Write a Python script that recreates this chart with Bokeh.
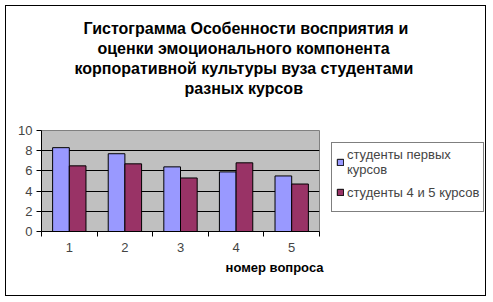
from bokeh.plotting import figure
from bokeh.models import (Range1d, FixedTicker, Title, Legend, LegendItem,
                          ColumnDataSource, InlineStyleSheet)
from bokeh.transform import dodge
from bokeh.embed import file_html
from bokeh.resources import INLINE

questions = [1, 2, 3, 4, 5]
first_year = [8.3, 7.7, 6.4, 5.9, 5.5]
senior = [6.5, 6.7, 5.3, 6.8, 4.7]
y_ticks = [0, 2, 4, 6, 8, 10]
title_lines = ["Гистограмма Особенности восприятия и",
               "оценки эмоционального компонента",
               "корпоративной культуры вуза студентами",
               "разных курсов"]
x_title = "номер вопроса"
series_names = ["студенты первых\nкурсов", "студенты 4 и 5 курсов"]

FONT = "Liberation Sans"
W, H = 493, 302
FL, FR, FT, FB = 41, 319, 130, 231  # frame edges in canvas px
title_left_px = [83, 97, 74, 184]   # left edge of each title line (layout)

src = ColumnDataSource(dict(q=questions, a=first_year, b=senior))

p = figure(frame_width=FR - FL, frame_height=FB - FT,
           output_backend="svg", toolbar_location=None,
           x_range=Range1d(0.5, 5.5), y_range=Range1d(0, 10),
           min_border_left=FL, min_border_right=W - FR,
           min_border_top=FT, min_border_bottom=H - FB)
p.background_fill_color = "#C0C0C0"
p.border_fill_color = "white"
p.outline_line_color = "#808080"
p.stylesheets = [InlineStyleSheet(css=(
    ":host::after { content: ''; position: absolute; left: 5px; top: 5px; "
    "width: 479px; height: 289px; border: 1px solid black; z-index: 100; "
    "pointer-events: none; box-sizing: content-box; }"))]

r1 = p.vbar(x=dodge("q", -0.15, range=p.x_range), top="a", width=0.3, bottom=0,
            source=src, fill_color="#9999FF", line_color="black", line_width=1)
r2 = p.vbar(x=dodge("q", 0.15, range=p.x_range), top="b", width=0.3, bottom=0,
            source=src, fill_color="#993366", line_color="black", line_width=1)

# y axis
ya = p.yaxis[0]
ya.ticker = FixedTicker(ticks=y_ticks)
ya.major_tick_out = 5
ya.major_tick_in = 0
ya.minor_tick_line_color = None
ya.axis_line_color = "black"
ya.major_label_text_font = FONT
ya.major_label_text_font_size = "13px"
ya.major_label_standoff = 4

# x axis
xa = p.xaxis[0]
xa.ticker = FixedTicker(ticks=questions, minor_ticks=[0.5, 1.5, 2.5, 3.5, 4.5, 5.5])
xa.major_tick_line_color = None
xa.major_tick_out = 0
xa.major_tick_in = 0
xa.minor_tick_out = 5
xa.minor_tick_in = 0
xa.minor_tick_line_color = "black"
xa.axis_line_color = "black"
xa.major_label_text_font = FONT
xa.major_label_text_font_size = "13px"
xa.major_label_standoff = 6

p.xgrid.grid_line_color = None
p.ygrid.ticker = FixedTicker(ticks=y_ticks)
p.ygrid.grid_line_color = "black"
p.ygrid.grid_line_width = 1

# blank spacer between the plot area and the chart title
p.add_layout(Title(text=" ", text_font=FONT, text_font_size="16px",
                   text_font_style="bold", standoff=14), "above")

# chart title: bottom line first so it sits closest to the plot area
for line, left in reversed(list(zip(title_lines, title_left_px))):
    p.add_layout(Title(text=line, align="left", offset=left - FL,
                       text_font=FONT, text_font_size="16px", text_font_style="bold",
                       text_color="black", standoff=1), "above")

# x axis title (right aligned)
p.add_layout(Title(text=x_title, align="right", offset=-4, text_font=FONT,
                   text_font_size="13px", text_font_style="bold",
                   text_color="black", standoff=6), "below")

# legend
legend = Legend(items=[LegendItem(label=series_names[0], renderers=[r1]),
                       LegendItem(label=series_names[1], renderers=[r2])],
                location="top_left")
legend.border_line_color = "black"
legend.border_line_width = 1
legend.background_fill_color = "white"
legend.background_fill_alpha = 1
legend.label_text_font = FONT
legend.label_text_font_size = "13px"
legend.glyph_width = 8
legend.glyph_height = 8
legend.label_standoff = 3
legend.padding = 4
legend.spacing = 0
legend.label_height = 30
legend.margin = 12
p.add_layout(legend, "right")

open("out.html", "w").write(file_html(p, INLINE))
